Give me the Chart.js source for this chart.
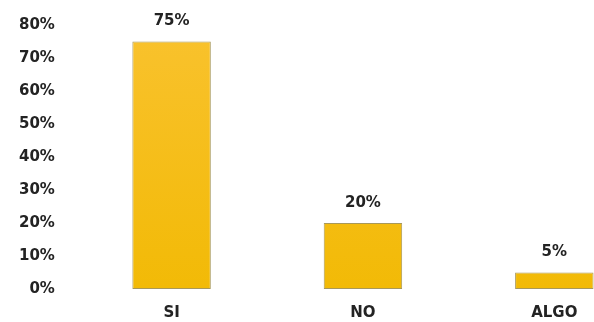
<!DOCTYPE html>
<html>
<head>
<meta charset="utf-8">
<script src="https://cdn.jsdelivr.net/npm/chart.js@4/dist/chart.umd.min.js"></script>
<style>
html,body{margin:0;padding:0;background:#fff;overflow:hidden;width:594px;height:322px;}
#wrap{width:652px;height:322px;}
</style>
</head>
<body>
<div id="wrap"><canvas id="c" width="652" height="322"></canvas></div>
<script>
const categories = ["SI", "NO", "ALGO"];
const values = [75, 20, 5];
const yTicks = [0, 10, 20, 30, 40, 50, 60, 70, 80];

const FONT = "'DejaVu Sans', sans-serif";
const TXT = "#232323";

const valueLabels = {
  id: 'valueLabels',
  afterDatasetsDraw(chart) {
    const ctx = chart.ctx;
    const meta = chart.getDatasetMeta(0);
    ctx.save();
    ctx.font = "bold 15px " + FONT;
    ctx.fillStyle = TXT;
    ctx.textAlign = 'center';
    ctx.textBaseline = 'middle';
    meta.data.forEach((bar, i) => {
      ctx.fillText(values[i] + '%', bar.x, bar.y - 20);
    });
    ctx.restore();
  }
};

new Chart(document.getElementById('c'), {
  type: 'bar',
  data: {
    labels: categories,
    datasets: [{
      data: values,
      backgroundColor: (ctx) => {
        const area = ctx.chart.chartArea;
        if (!area) return '#F7C20F';
        const g = ctx.chart.ctx.createLinearGradient(0, area.top, 0, area.bottom);
        g.addColorStop(0, '#F9C22E');
        g.addColorStop(1, '#F2BA06');
        return g;
      },
      borderColor: '#A8985A',
      borderWidth: 1,
      borderSkipped: false,
      barPercentage: 0.41,
      categoryPercentage: 1
    }]
  },
  options: {
    responsive: false,
    animation: false,
    devicePixelRatio: 1,
    layout: { padding: { top: 25, right: 2, left: -2, bottom: -15 } },
    plugins: { legend: { display: false }, tooltip: { enabled: false } },
    scales: {
      x: {
        grid: { display: false, drawTicks: false },
        border: { display: false },
        afterFit: (s) => { s.paddingTop = 0; s.paddingBottom = 0; },
        ticks: { color: TXT, font: { family: FONT, size: 15, weight: 'bold' }, padding: 15 }
      },
      y: {
        min: 0, max: 80,
        afterBuildTicks: (s) => { s.ticks = yTicks.map(v => ({ value: v })); },
        afterFit: (s) => { s.paddingTop = 0; s.paddingBottom = 0; },
        grid: { display: false, drawTicks: false },
        border: { display: false },
        ticks: { color: TXT, font: { family: FONT, size: 15, weight: 'bold' }, padding: 21,
                 callback: (v) => v + '%' }
      }
    }
  },
  plugins: [valueLabels]
});
</script>
</body>
</html>
